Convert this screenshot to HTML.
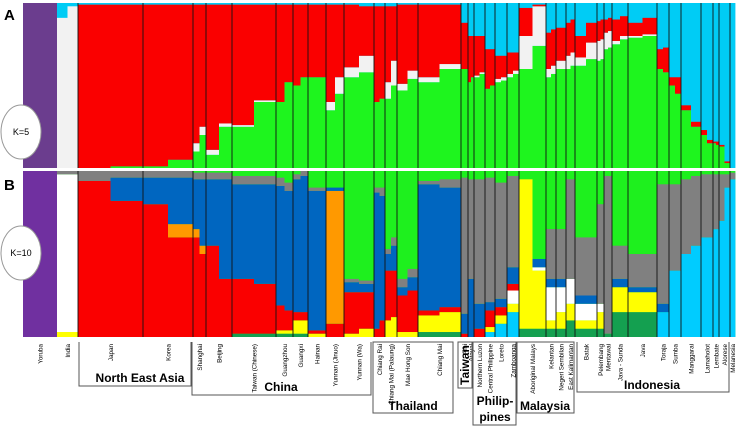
<!DOCTYPE html>
<html><head><meta charset="utf-8"><style>
body{margin:0;background:#fff;}
svg{display:block;font-family:"Liberation Sans",sans-serif;}
</style></head><body>
<svg id="chart" width="738" height="428" viewBox="0 0 738 428" xmlns="http://www.w3.org/2000/svg">
<g id="panelA"></g>
<g id="panelB"></g>
<g id="seps"></g>
<g id="labels"></g>
<text x="4" y="20" font-size="15" font-weight="bold">A</text>
<text x="4" y="190" font-size="15" font-weight="bold">B</text>
<ellipse cx="21" cy="132" rx="20" ry="27" fill="#fff" stroke="#999"/>
<text x="21" y="135" font-size="9" text-anchor="middle">K=5</text>
<ellipse cx="21" cy="253" rx="20" ry="27" fill="#fff" stroke="#999"/>
<text x="21" y="256" font-size="9" text-anchor="middle">K=10</text>
<g fill="none" stroke="#555" stroke-width="1">
<path d="M79,342 V386 H191 V342"/>
<path d="M192,342 V395 H371 V342"/>
<path d="M373,342 V413 H453 V342 Z"/>
<path d="M458,342 V388 H472 V342 Z"/>
<path d="M473,342 V425 H516 V342 Z"/>
<path d="M517,342 V413 H574 V342 Z"/>
<path d="M577,342 V392 H729 V342"/>
</g>
<g font-weight="bold" font-size="12" text-anchor="middle">
<text x="140" y="382">North East Asia</text>
<text x="281" y="391">China</text>
<text x="413" y="410">Thailand</text>
<text transform="translate(469,385) rotate(-90)" x="0" y="0" text-anchor="start">Taiwan</text>
<text x="495" y="405">Philip-</text>
<text x="495" y="421">pines</text>
<text x="545" y="410">Malaysia</text>
<text x="652" y="389">Indonesia</text>
</g>
</svg>
<script>
const popNames=["Yoruba","India","Japan","Korea","Shanghai","Beijing","Taiwan (Chinese)","Guangzhou","Guangxi","Hainan","Yunnan (Jinuo)","Yunnan (Wa)","Chiang Rai","Chiang Mai (Palaung)","Mae Hong Son","Chiang Mai","Ami","Atayal","Northern Luzon","Central Philippine","Loreto","Zamboanga","Aboriginal Malays","Kelantan","Negeri Sembilan","East Kalimantan","Batak","Pelembang","Mentawai","Java - Sunda","Java","Toraja","Sumba","Manggarai","Lamaholot","Lembate","Alorese","Melanesia"];
const popSize=[34,21,65,50,13,26,44,17,15,18,18,30,11,12,21,43,7,6,11,10,12,12,27,10,10,9,22,7,8,16,29,12,12,20,12,6,11,5];
const k5Purple=[[1,1],[0,0],[0,0],[0,0],[0,0],[0,0],[0,0],[0,0],[0,0],[0,0],[0,0],[0,0],[0,0],[0,0],[0,0],[0,0],[0,0],[0,0],[0,0],[0,0],[0,0],[0,0],[0,0],[0,0],[0,0],[0,0],[0,0],[0,0],[0,0],[0,0],[0,0],[0,0],[0,0],[0,0],[0,0],[0,0],[0,0],[0,0]];
const k5Green=[[0,0],[0,0],[0,0.01],[0.01,0.05],[0.1,0.2],[0.08,0.25],[0.25,0.4],[0.4,0.52],[0.5,0.55],[0.55,0.55],[0.35,0.45],[0.55,0.58],[0.4,0.42],[0.42,0.5],[0.47,0.54],[0.52,0.6],[0.6,0.6],[0.52,0.55],[0.55,0.57],[0.48,0.5],[0.52,0.53],[0.55,0.57],[0.6,0.74],[0.55,0.57],[0.6,0.6],[0.6,0.62],[0.62,0.66],[0.65,0.66],[0.72,0.73],[0.75,0.78],[0.79,0.8],[0.6,0.58],[0.5,0.45],[0.35,0.25],[0.2,0.15],[0.15,0.14],[0.13,0.03],[0,0]];
const k5White=[[0,0],[0.91,0.98],[0,0],[0,0],[0.05,0.05],[0.03,0.02],[0.01,0.01],[0,0],[0,0],[0,0],[0.05,0.1],[0.06,0.1],[0,0],[0.1,0.15],[0.04,0.05],[0.03,0.03],[0,0],[0,0],[0.01,0.01],[0,0],[0.02,0.02],[0.02,0.02],[0.2,0.24],[0.05,0.05],[0.05,0.05],[0.08,0.08],[0.05,0.1],[0.12,0.12],[0.1,0.1],[0.02,0.02],[0.01,0.01],[0,0],[0,0],[0,0],[0,0],[0,0],[0,0],[0,0]];
const k5Red=[[0,0],[0,0],[0.99,0.98],[0.98,0.94],[0.84,0.74],[0.88,0.72],[0.73,0.58],[0.59,0.47],[0.49,0.44],[0.44,0.44],[0.59,0.44],[0.38,0.3],[0.58,0.56],[0.46,0.33],[0.48,0.4],[0.44,0.36],[0.28,0.28],[0.28,0.25],[0.24,0.22],[0.24,0.22],[0.14,0.13],[0.13,0.11],[0.17,0.01],[0.22,0.22],[0.2,0.2],[0.2,0.2],[0.13,0.12],[0.12,0.12],[0.08,0.08],[0.13,0.12],[0.08,0.1],[0.12,0.15],[0.05,0.1],[0.03,0.03],[0.03,0.02],[0.01,0.02],[0.01,0.01],[0,0]];
const k10Purple=k5Purple;
const k10DkGreen=[[0,0],[0,0],[0,0],[0,0],[0,0],[0,0],[0.02,0.02],[0.02,0.02],[0.02,0.02],[0,0],[0,0],[0,0],[0,0],[0,0],[0,0],[0.03,0.03],[0,0],[0,0],[0,0],[0,0],[0,0],[0,0],[0.05,0.05],[0.05,0.05],[0.05,0.05],[0.1,0.1],[0.05,0.05],[0.05,0.05],[0.02,0.02],[0.15,0.15],[0.15,0.15],[0,0],[0,0],[0,0],[0,0],[0,0],[0,0],[0,0]];
const k10Cyan=[[0,0],[0,0],[0,0],[0,0],[0,0],[0,0],[0,0],[0,0],[0,0],[0,0],[0,0],[0,0],[0,0],[0,0],[0,0],[0,0],[0,0],[0,0],[0,0],[0.03,0.03],[0.08,0.08],[0.15,0.15],[0,0],[0,0],[0,0],[0,0],[0,0],[0,0],[0,0],[0,0],[0,0],[0.15,0.15],[0.4,0.4],[0.5,0.55],[0.6,0.6],[0.65,0.65],[0.7,0.9],[0.95,0.95]];
const k10Yellow=[[0,0],[0.03,0.03],[0,0],[0,0],[0,0],[0,0],[0,0],[0.02,0.02],[0.08,0.08],[0.02,0.02],[0,0],[0.02,0.05],[0,0],[0.1,0.12],[0.03,0.03],[0.1,0.12],[0,0],[0,0],[0,0],[0.03,0.03],[0.05,0.05],[0.05,0.05],[0.9,0.35],[0.05,0.05],[0.1,0.1],[0.1,0.1],[0.05,0.05],[0.1,0.1],[0,0],[0.15,0.15],[0.12,0.12],[0,0],[0,0],[0,0],[0,0],[0,0],[0,0],[0,0]];
const k10White=[[0,0],[0.95,0.95],[0,0],[0,0],[0,0],[0,0],[0,0],[0,0],[0,0],[0,0],[0,0],[0,0],[0,0],[0,0],[0,0],[0,0],[0,0],[0,0],[0,0],[0,0],[0,0],[0.08,0.08],[0,0.02],[0.2,0.2],[0.15,0.15],[0.15,0.15],[0.1,0.1],[0.05,0.05],[0,0],[0,0],[0,0],[0,0],[0,0],[0,0],[0,0],[0,0],[0,0],[0,0]];
const k10Red=[[0,0],[0,0],[0.94,0.82],[0.8,0.6],[0.6,0.5],[0.55,0.35],[0.33,0.3],[0.15,0.12],[0.05,0.05],[0.02,0.02],[0.08,0.08],[0.25,0.22],[0.05,0.1],[0.3,0.28],[0.22,0.25],[0.03,0.03],[0.02,0.02],[0,0],[0.05,0.05],[0.1,0.1],[0.05,0.05],[0.04,0.04],[0,0],[0,0],[0,0],[0,0],[0,0],[0,0],[0,0],[0,0],[0,0],[0,0],[0,0],[0,0],[0,0],[0,0],[0,0],[0,0]];
const k10Orange=[[0,0],[0,0],[0,0],[0,0.08],[0.05,0.05],[0,0],[0,0],[0,0],[0,0],[0,0],[0.8,0.8],[0,0],[0,0],[0,0],[0,0],[0,0],[0,0],[0,0],[0,0],[0,0],[0,0],[0,0],[0,0],[0,0],[0,0],[0,0],[0,0],[0,0],[0,0],[0,0],[0,0],[0,0],[0,0],[0,0],[0,0],[0,0],[0,0],[0,0]];
const k10Blue=[[0,0],[0,0],[0,0.14],[0.16,0.28],[0.3,0.4],[0.4,0.6],[0.57,0.6],[0.72,0.72],[0.8,0.82],[0.84,0.84],[0.02,0.02],[0.06,0.05],[0.82,0.75],[0.1,0.15],[0.05,0.08],[0.76,0.72],[0.12,0.12],[0.35,0.35],[0.15,0.15],[0.05,0.05],[0.05,0.05],[0.1,0.1],[0,0.05],[0.05,0.05],[0.05,0.05],[0,0],[0.05,0.05],[0,0],[0,0],[0.05,0.05],[0.03,0.03],[0.05,0.05],[0,0],[0,0],[0,0],[0,0],[0,0],[0,0]];
const k10Gray=[[0,0],[0.02,0.02],[0.06,0.04],[0.04,0.04],[0.04,0.04],[0.04,0.04],[0.05,0.05],[0.05,0.05],[0.03,0.03],[0.02,0.02],[0,0],[0.02,0.02],[0.03,0.05],[0.03,0.05],[0.05,0.05],[0.02,0.05],[0.82,0.82],[0.6,0.6],[0.75,0.75],[0.75,0.75],[0.7,0.7],[0.55,0.55],[0,0],[0.3,0.3],[0.3,0.3],[0.6,0.6],[0.35,0.35],[0.6,0.6],[0.95,0.95],[0.2,0.2],[0.2,0.2],[0.72,0.72],[0.52,0.52],[0.45,0.42],[0.38,0.38],[0.33,0.33],[0.28,0.08],[0.04,0.04]];

const X0=23, X1=735;
const total=popSize.reduce((a,b)=>a+b,0);
const xScale=v=>X0+v/total*(X1-X0);
const NS="http://www.w3.org/2000/svg";
function mk(tag,attrs,parent){const e=document.createElementNS(NS,tag);for(const k in attrs)e.setAttribute(k,attrs[k]);parent.appendChild(e);return e;}

function drawPanel(g,top,bottom,comps,remColor,prefix){
  const yS=f=>bottom-f*(bottom-top);
  let cum=0;
  popNames.forEach((name,i)=>{
    const xa=xScale(cum), xb=xScale(cum+popSize[i]);
    const xm=(xa+xb)/2;
    [[xa,xm,0],[xm,xb,1]].forEach(([l,r,s])=>{
      const rr=mk('rect',{x:l,y:top,width:r-l+0.4,height:bottom-top,fill:remColor},g);
      
      
      let acc=0;
      comps.forEach(([arr,col])=>{
        const v=arr[i][s]; if(v<=0)return;
        const lo=acc, hi=Math.min(1,acc+v); acc=hi;
        const r2=mk('rect',{x:l,y:yS(hi),width:r-l+0.4,height:yS(lo)-yS(hi),fill:col},g);
        
        
      });
    });
    cum+=popSize[i];
  });
}
drawPanel(document.getElementById('panelA'),3,168,
 [[k5Purple,'#6b3d8e'],[k5Green,'#1ef51e'],[k5White,'#f2f2f2'],[k5Red,'#fa0000']],'#00ccf5','k5');
drawPanel(document.getElementById('panelB'),171,337,
 [[k10Purple,'#7030a0'],[k10DkGreen,'#14a050'],[k10Cyan,'#00ccff'],[k10Yellow,'#ffff00'],[k10White,'#ffffff'],[k10Red,'#fa0000'],[k10Orange,'#ff9900'],[k10Blue,'#0066c0'],[k10Gray,'#808080']],'#1ef01e','k10');

const seps=document.getElementById('seps');
const labels=document.getElementById('labels');
let cum=0;
popNames.forEach((name,i)=>{
  const xa=xScale(cum), xb=xScale(cum+popSize[i]);
  if(i>=2){
    [[3,168],[171,337]].forEach(([t,b])=>{
      const ln=mk('line',{x1:xa,x2:xa,y1:t,y2:b,stroke:'#111','stroke-width':0.9},seps);
      
      
    });
  }
  const xc=(xa+xb)/2+2.5;
  const t=mk('text',{transform:`translate(${xc},344) rotate(-90)`,'text-anchor':'end','font-size':6.3},labels);
  t.textContent=name;
  
  
  cum+=popSize[i];
});
const wl=mk('rect',{x:0,y:168,width:738,height:3,fill:'#fff'},seps);


</script>
</body></html>
